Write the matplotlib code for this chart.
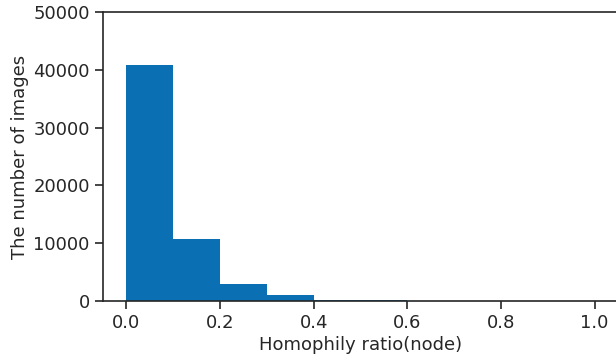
import matplotlib.pyplot as plt
import numpy as np

# histogram bins (homophily ratio) and counts
bin_edges = [0.0, 0.1, 0.2, 0.3, 0.4, 0.5, 0.6, 0.7, 0.8, 0.9, 1.0]
counts = [40800, 10700, 3000, 1100, 250, 200, 0, 0, 0, 0]
xticks = [0.0, 0.2, 0.4, 0.6, 0.8, 1.0]
yticks = [0, 10000, 20000, 30000, 40000, 50000]

plt.rcParams['font.family'] = 'DejaVu Sans'
plt.rcParams['text.color'] = '#262626'
plt.rcParams['axes.labelcolor'] = '#262626'
plt.rcParams['xtick.color'] = '#262626'
plt.rcParams['ytick.color'] = '#262626'

fig = plt.figure(figsize=(6.16, 3.6), dpi=100)
ax = fig.add_axes([103 / 616, 59 / 360, 515 / 616, 289 / 360])

ax.hist(bin_edges[:-1], bins=bin_edges, weights=counts, color='#0b6fb4')

ax.set_xlim(-0.05, 1.05)
ax.set_ylim(0, 50000)
ax.set_xticks(xticks)
ax.set_yticks(yticks)
ax.tick_params(labelsize=13, length=6, width=1.2)
for s in ax.spines.values():
    s.set_linewidth(1.2)
    s.set_color('#262626')
ax.set_xlabel('Homophily ratio(node)', fontsize=13, labelpad=3)
ax.set_ylabel('The number of images', fontsize=13, labelpad=3)

fig.savefig('out.png', dpi=100)
